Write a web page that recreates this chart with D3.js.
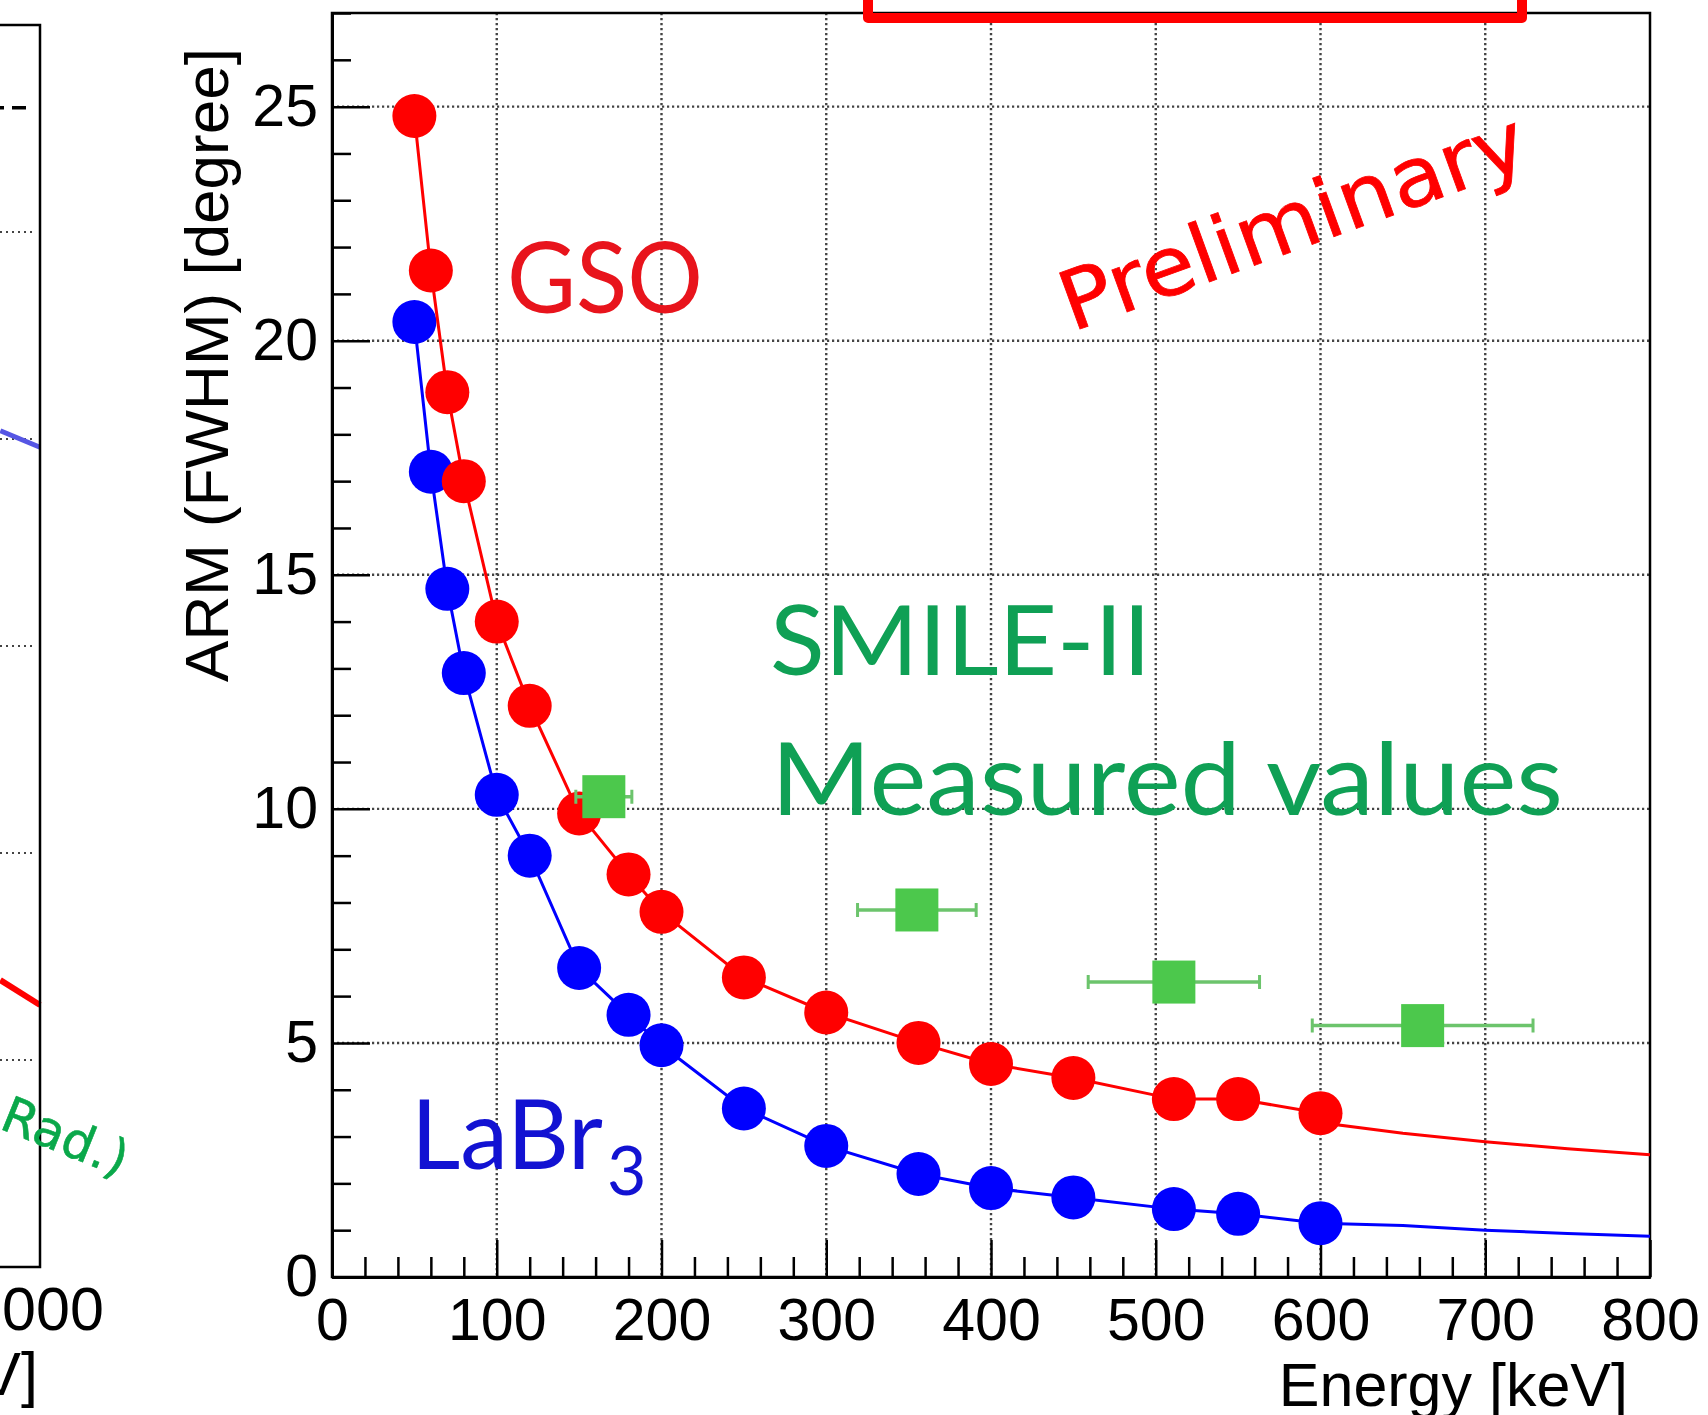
<!DOCTYPE html>
<html>
<head>
<meta charset="utf-8">
<script src="https://cdn.jsdelivr.net/npm/d3@7"></script>
<style>
  html, body { margin: 0; padding: 0; background: #fff; overflow: hidden; }
  svg { display: block; }
</style>
</head>
<body>
<svg id="armPlot"></svg>
<script>
// ARM (FWHM) [degree] vs Energy [keV]
const gsoEnergy = [50, 60, 70, 80, 100, 120, 150, 180, 200, 250, 300, 356, 400, 450, 511, 550, 600];
const gsoArm = [24.8, 21.5, 18.9, 17.0, 14.0, 12.2, 9.9, 8.6, 7.8, 6.4, 5.65, 5.0, 4.55, 4.25, 3.8, 3.8, 3.5];
// the curve goes on past the last point
const gsoTailEnergy = [610, 650, 700, 750, 800];
const gsoTailArm = [3.25, 3.07, 2.89, 2.74, 2.61];

const labrEnergy = [50, 60, 70, 80, 100, 120, 150, 180, 200, 250, 300, 356, 400, 450, 511, 550, 600];
const labrArm = [20.4, 17.2, 14.7, 12.9, 10.3, 9.0, 6.6, 5.6, 4.95, 3.6, 2.8, 2.2, 1.9, 1.7, 1.45, 1.35, 1.15];
const labrTailEnergy = [650, 700, 750, 800];
const labrTailArm = [1.1, 1.0, 0.93, 0.87];

// SMILE-II measured values
const smileEnergy = [165, 355, 511, 662];
const smileEnergyErr = [17, 36, 52, 67];
const smileArm = [10.26, 7.84, 6.3, 5.37];

const xTicks = [0, 100, 200, 300, 400, 500, 600, 700, 800];
const yTicks = [0, 5, 10, 15, 20, 25];
const xGrid = [100, 200, 300, 400, 500, 600, 700];
const yGrid = [5, 10, 15, 20, 25];

// piece of the neighbouring plot cut at the left edge
const leftGrid = [5, 10, 15, 20, 25];
const leftDashed = [28.0, 28.0];
const leftEnergy = [968, 1000];
const leftBlue = [20.2, 19.8];
const leftRed = [6.93, 6.33];

const width = 1708;
const height = 1415;
const axisFont = '"Liberation Sans", Arial, sans-serif';
const noteFont = 'Lato, "Open Sans", sans-serif';
const handFont = '"Comic Sans MS", "DejaVu Sans", sans-serif';

const svg = d3.select('#armPlot')
  .attr('width', width)
  .attr('height', height);

svg.append('rect')
  .attr('width', width)
  .attr('height', height)
  .attr('fill', '#fff');

const x = d3.scaleLinear().domain([0, 800]).range([332, 1650]);
const y = d3.scaleLinear().domain([0, 27]).range([1277, 13]);

const toPts = (es, as) => es.map((e, i) => [e, as[i]]);
const line = d3.line().x(d => x(d[0])).y(d => y(d[1]));

/* ---------- left fragment ---------- */
const lx = d3.scaleLinear().domain([0, 1000]).range([-1200, 40]);
const ly = d3.scaleLinear().domain([0, 30]).range([1267, 25]);
const left = svg.append('g');

left.selectAll('line.lgrid')
  .data(leftGrid)
  .join('line')
  .attr('class', 'lgrid')
  .attr('x1', 0)
  .attr('x2', 34)
  .attr('y1', d => ly(d))
  .attr('y2', d => ly(d))
  .attr('stroke', '#444')
  .attr('stroke-width', 2.2)
  .attr('stroke-dasharray', '2,4');

left.append('line')
  .attr('x1', 0).attr('x2', 28)
  .attr('y1', ly(leftDashed[0])).attr('y2', ly(leftDashed[1]))
  .attr('stroke', '#000')
  .attr('stroke-width', 3.5)
  .attr('stroke-dasharray', '4,8,14,6');

const lline = d3.line().x(d => lx(d[0])).y(d => ly(d[1]));
left.append('path')
  .attr('d', lline(toPts(leftEnergy, leftBlue)))
  .attr('fill', 'none')
  .attr('stroke', '#5656e4')
  .attr('stroke-width', 5);
left.append('path')
  .attr('d', lline(toPts(leftEnergy, leftRed)))
  .attr('fill', 'none')
  .attr('stroke', '#ff0000')
  .attr('stroke-width', 6);

left.append('path')
  .attr('d', `M-10,${ly(30)}H${lx(1000)}V${ly(0)}H-10`)
  .attr('fill', 'none')
  .attr('stroke', '#000')
  .attr('stroke-width', 2.5);

left.append('text')
  .attr('x', lx(1000) - 4)
  .attr('y', 1330)
  .attr('text-anchor', 'middle')
  .attr('font-family', axisFont)
  .attr('font-size', 61)
  .text('1000');

left.append('text')
  .attr('x', 38)
  .attr('y', 1395)
  .attr('text-anchor', 'end')
  .attr('font-family', axisFont)
  .attr('font-size', 61)
  .text('Energy [keV]');

left.append('text')
  .attr('transform', 'translate(-2,1128) rotate(22)')
  .attr('font-family', handFont)
  .attr('font-size', 50)
  .attr('fill', '#0aa84a')
  .attr('stroke', '#0aa84a')
  .attr('stroke-width', 0.6)
  .text('Rad.)');

/* ---------- grid ---------- */
const grid = svg.append('g')
  .attr('stroke', '#444')
  .attr('stroke-width', 2.4)
  .attr('stroke-dasharray', '2.2,2.8');

grid.selectAll('line.vx')
  .data(xGrid)
  .join('line')
  .attr('class', 'vx')
  .attr('x1', d => x(d)).attr('x2', d => x(d))
  .attr('y1', y(27)).attr('y2', y(0));

grid.selectAll('line.hy')
  .data(yGrid)
  .join('line')
  .attr('class', 'hy')
  .attr('x1', x(0)).attr('x2', x(800))
  .attr('y1', d => y(d)).attr('y2', d => y(d));

/* ---------- axes ---------- */
const styleAxis = (g) => {
  g.attr('font-family', axisFont).attr('font-size', 59);
  g.selectAll('.tick line').attr('stroke', '#000').attr('stroke-width', 2.5);
  g.selectAll('.tick text').attr('fill', '#000');
  g.select('.domain').attr('stroke', '#000').attr('stroke-width', 3);
};

const xMinor = d3.range(0, 801, 20).filter(v => v % 100 !== 0);
const yMinor = d3.range(0, 28, 1).filter(v => v % 5 !== 0);

svg.append('g')
  .attr('transform', `translate(0,${y(0)})`)
  .call(d3.axisBottom(x).tickValues(xMinor).tickSize(-20).tickSizeOuter(0).tickFormat(''))
  .call(styleAxis);

svg.append('g')
  .attr('transform', `translate(0,${y(0)})`)
  .call(d3.axisBottom(x).tickValues(xTicks).tickSize(-37).tickSizeOuter(0).tickPadding(21))
  .call(styleAxis);

svg.append('g')
  .attr('transform', `translate(${x(0)},0)`)
  .call(d3.axisLeft(y).tickValues(yMinor).tickSize(-19).tickSizeOuter(0).tickFormat(''))
  .call(styleAxis);

svg.append('g')
  .attr('transform', `translate(${x(0)},0)`)
  .call(d3.axisLeft(y).tickValues(yTicks).tickSize(-38).tickSizeOuter(0).tickPadding(14))
  .call(styleAxis);

// frame
svg.append('rect')
  .attr('x', x(0))
  .attr('y', y(27))
  .attr('width', x(800) - x(0))
  .attr('height', y(0) - y(27))
  .attr('fill', 'none')
  .attr('stroke', '#000')
  .attr('stroke-width', 2.5);

svg.append('text')
  .attr('transform', 'translate(228,365) rotate(-90)')
  .attr('text-anchor', 'middle')
  .attr('font-family', axisFont)
  .attr('font-size', 62)
  .text('ARM (FWHM) [degree]');

svg.append('text')
  .attr('x', 1628)
  .attr('y', 1406)
  .attr('text-anchor', 'end')
  .attr('font-family', axisFont)
  .attr('font-size', 61)
  .text('Energy [keV]');

/* ---------- series ---------- */
const series = [
  {energy: labrEnergy, arm: labrArm, tailE: labrTailEnergy, tailA: labrTailArm, color: '#0000ff'},
  {energy: gsoEnergy, arm: gsoArm, tailE: gsoTailEnergy, tailA: gsoTailArm, color: '#ff0000'}
];

series.forEach((s) => {
  const pts = toPts(s.energy, s.arm);
  svg.append('path')
    .attr('d', line(pts.concat(toPts(s.tailE, s.tailA))))
    .attr('fill', 'none')
    .attr('stroke', s.color)
    .attr('stroke-width', 3);
  svg.append('g')
    .selectAll('circle')
    .data(pts)
    .join('circle')
    .attr('cx', d => x(d[0]))
    .attr('cy', d => y(d[1]))
    .attr('r', 22)
    .attr('fill', s.color);
});

// measured points with energy error bars
const smile = svg.append('g');
const smilePts = smileEnergy.map((e, i) => ({e: e, err: smileEnergyErr[i], a: smileArm[i]}));

smile.selectAll('line.err')
  .data(smilePts)
  .join('line')
  .attr('class', 'err')
  .attr('x1', d => x(d.e - d.err)).attr('x2', d => x(d.e + d.err))
  .attr('y1', d => y(d.a)).attr('y2', d => y(d.a))
  .attr('stroke', '#6cc46c')
  .attr('stroke-width', 3.5);

smile.selectAll('path.cap')
  .data(smilePts)
  .join('path')
  .attr('class', 'cap')
  .attr('d', d => `M${x(d.e - d.err)},${y(d.a) - 7}v14M${x(d.e + d.err)},${y(d.a) - 7}v14`)
  .attr('stroke', '#6cc46c')
  .attr('stroke-width', 3);

smile.selectAll('rect')
  .data(smilePts)
  .join('rect')
  .attr('x', d => x(d.e) - 21.5)
  .attr('y', d => y(d.a) - 21.5)
  .attr('width', 43)
  .attr('height', 43)
  .attr('fill', '#4cc84c');

/* ---------- notes ---------- */
svg.append('text')
  .attr('x', 507).attr('y', 313)
  .attr('font-family', noteFont)
  .attr('font-size', 99)
  .attr('fill', '#e8141c')
  .attr('textLength', 196)
  .attr('lengthAdjust', 'spacingAndGlyphs')
  .text('GSO');

svg.append('text')
  .attr('x', 770).attr('y', 675)
  .attr('font-family', noteFont)
  .attr('font-size', 96)
  .attr('fill', '#0fa055')
  .attr('textLength', 381)
  .attr('lengthAdjust', 'spacingAndGlyphs')
  .text('SMILE-II');

svg.append('text')
  .attr('x', 771).attr('y', 815)
  .attr('font-family', noteFont)
  .attr('font-size', 100)
  .attr('fill', '#0fa055')
  .attr('textLength', 792)
  .attr('lengthAdjust', 'spacingAndGlyphs')
  .text('Measured values');

const labr = svg.append('text')
  .attr('x', 411).attr('y', 1169)
  .attr('font-family', noteFont)
  .attr('font-size', 96)
  .attr('fill', '#1212d2');
labr.append('tspan').text('LaBr');
labr.append('tspan')
  .attr('dy', 26)
  .attr('dx', 4)
  .attr('font-size', 68)
  .text('3');

svg.append('text')
  .attr('transform', 'translate(1072,332) rotate(-20)')
  .attr('font-family', handFont)
  .attr('font-size', 82)
  .attr('fill', '#ff0000')
  .attr('stroke', '#ff0000')
  .attr('stroke-width', 0.8)
  .attr('textLength', 490)
  .attr('lengthAdjust', 'spacingAndGlyphs')
  .text('Preliminary');

// red box edge at the top
svg.append('path')
  .attr('d', 'M868,-20V18H1522V-20')
  .attr('fill', 'none')
  .attr('stroke', '#ff0000')
  .attr('stroke-width', 10)
  .attr('stroke-linejoin', 'round');
</script>
</body>
</html>
